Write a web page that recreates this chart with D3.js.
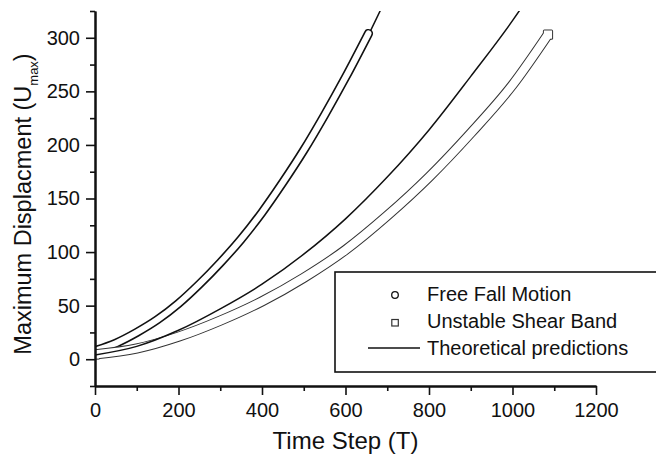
<!DOCTYPE html>
<html>
<head>
<meta charset="utf-8">
<script src="https://cdn.jsdelivr.net/npm/d3@7/dist/d3.min.js"></script>
<style>
  body { margin: 0; background: #fff; }
  text { font-family: "Liberation Sans", Arial, sans-serif; fill: #111; }
</style>
</head>
<body>
<div id="chart"></div>
<script>
// values (time step T, max displacement U)
var freeFallT = [0, 50, 100, 150, 200, 250, 300, 350, 400, 450, 500, 550, 600, 655];
var freeFallU = [8, 15, 25, 37, 52, 70, 90, 112, 137, 165, 195, 228, 263, 304];

var shearT = [0, 100, 200, 300, 400, 500, 600, 700, 800, 900, 1000, 1085];
var shearU = [4.5, 10, 21, 36, 54, 76, 102, 134, 170, 211, 256, 303];

var theoryFallT = [0, 100, 200, 300, 400, 500, 600, 700];
var theoryFallU = [11, 25, 51, 88, 135, 192, 260, 339];

var theoryShearT = [0, 100, 200, 300, 400, 500, 600, 700, 800, 900, 1000, 1030];
var theoryShearU = [4, 12, 27, 47, 70, 98, 131, 170, 214, 264, 316, 333];

var xTicks = [0, 200, 400, 600, 800, 1000, 1200];
var xMinor = [100, 300, 500, 700, 900, 1100];
var yTicks = [0, 50, 100, 150, 200, 250, 300];
var yMinor = [-25, 25, 75, 125, 175, 225, 275, 325];

var legendLabels = ["Free Fall Motion", "Unstable Shear Band", "Theoretical predictions"];

// set up svg
var svgWidth = 656;
var svgHeight = 458;
var margin = { top: 11, right: 60, bottom: 72, left: 95 };
var width = svgWidth - margin.left - margin.right;
var height = svgHeight - margin.top - margin.bottom;

var svg = d3.select("#chart")
  .append("svg")
  .attr("width", svgWidth)
  .attr("height", svgHeight);

var chartGroup = svg.append("g")
  .attr("transform", `translate(${margin.left}, ${margin.top})`);

var x = d3.scaleLinear().domain([0, 1200]).range([0, width]);
var y = d3.scaleLinear().domain([-25, 325]).range([height, 0]);

svg.append("defs").append("clipPath")
  .attr("id", "plotclip")
  .append("rect")
  .attr("x", 0).attr("y", 0)
  .attr("width", width).attr("height", height);

var plot = chartGroup.append("g").attr("clip-path", "url(#plotclip)");

var line = d3.line().curve(d3.curveMonotoneX);

function pts(tArr, uArr) {
  return tArr.map((t, i) => [x(t), y(uArr[i])]);
}

// theory line for free fall sits under the symbols
plot.append("path")
  .attr("d", line(pts(theoryFallT, theoryFallU)))
  .attr("fill", "none")
  .attr("stroke", "#111")
  .attr("stroke-width", 1.5);

// dense symbols -> draw as an outlined band
function drawBand(tArr, uArr, outerW, innerW, shape, edge) {
  var p = pts(tArr, uArr);
  var g = plot.append("g");
  var cap = shape === "circle" ? "round" : "butt";
  g.append("path")
    .attr("d", line(p))
    .attr("fill", "none")
    .attr("stroke", edge)
    .attr("stroke-width", outerW)
    .attr("stroke-linecap", cap);
  if (shape === "square") {
    [p[0], p[p.length - 1]].forEach(function(q) {
      g.append("rect")
        .attr("x", q[0] - outerW / 2).attr("y", q[1] - outerW / 2)
        .attr("width", outerW).attr("height", outerW)
        .attr("rx", 1.5)
        .attr("fill", edge);
    });
  }
  g.append("path")
    .attr("d", line(p))
    .attr("fill", "none")
    .attr("stroke", "#fff")
    .attr("stroke-width", innerW)
    .attr("stroke-linecap", cap);
  if (shape === "square") {
    [p[0], p[p.length - 1]].forEach(function(q) {
      g.append("rect")
        .attr("x", q[0] - innerW / 2).attr("y", q[1] - innerW / 2)
        .attr("width", innerW).attr("height", innerW)
        .attr("fill", "#fff");
    });
  }
}

drawBand(freeFallT, freeFallU, 9.2, 6, "circle", "#111");
drawBand(shearT, shearU, 10.2, 8.2, "square", "#333");

plot.append("path")
  .attr("d", line(pts(theoryShearT, theoryShearU)))
  .attr("fill", "none")
  .attr("stroke", "#111")
  .attr("stroke-width", 1.5);

// axes
var bottomAxis = d3.axisBottom(x).tickValues(xTicks).tickSize(9).tickSizeOuter(0).tickPadding(7.5).tickFormat(d3.format("d"));
var bottomMinor = d3.axisBottom(x).tickValues(xMinor).tickSize(5).tickSizeOuter(0).tickFormat("");
var leftAxis = d3.axisLeft(y).tickValues(yTicks).tickSize(9).tickSizeOuter(0).tickPadding(6).tickFormat(d3.format("d"));
var leftMinor = d3.axisLeft(y).tickValues(yMinor).tickSize(5).tickSizeOuter(0).tickFormat("");

var xAxis = chartGroup.append("g").attr("transform", `translate(0, ${height})`).call(bottomAxis);
chartGroup.append("g").attr("transform", `translate(0, ${height})`).call(bottomMinor);
var yAxis = chartGroup.append("g").call(leftAxis);
chartGroup.append("g").call(leftMinor);

chartGroup.selectAll(".domain").attr("stroke", "#111").attr("stroke-width", 2);
chartGroup.selectAll(".tick line").attr("stroke", "#111").attr("stroke-width", 1.6);
chartGroup.selectAll(".tick text")
  .style("font-family", '"Liberation Sans", Arial, sans-serif')
  .style("font-size", "20px")
  .attr("fill", "#111");

// axis titles
chartGroup.append("text")
  .attr("x", width / 2)
  .attr("y", height + 63)
  .attr("text-anchor", "middle")
  .style("font-size", "24px")
  .text("Time Step (T)");

var yTitle = svg.append("text")
  .attr("transform", "translate(30.5, 204) rotate(-90)")
  .attr("text-anchor", "middle")
  .style("font-size", "23.5px");
yTitle.append("tspan").text("Maximum Displacment (U");
yTitle.append("tspan").attr("dy", 7.5).style("font-size", "13px").text("max");
yTitle.append("tspan").attr("dy", -7.5).text(")");

// legend
var legend = svg.append("g");
legend.append("rect")
  .attr("x", 335).attr("y", 272)
  .attr("width", 340).attr("height", 100)
  .attr("fill", "#fff")
  .attr("stroke", "#111")
  .attr("stroke-width", 1.6);

legend.append("circle")
  .attr("cx", 395).attr("cy", 295)
  .attr("r", 3.3)
  .attr("fill", "#fff").attr("stroke", "#111").attr("stroke-width", 1.3);
legend.append("rect")
  .attr("x", 391.8).attr("y", 319.5)
  .attr("width", 6.5).attr("height", 6.5)
  .attr("fill", "#fff").attr("stroke", "#333").attr("stroke-width", 1.2);
legend.append("line")
  .attr("x1", 368).attr("x2", 420)
  .attr("y1", 348).attr("y2", 348)
  .attr("stroke", "#111").attr("stroke-width", 1.5);

legend.selectAll(".legtext")
  .data(legendLabels)
  .enter()
  .append("text")
  .attr("class", "legtext")
  .attr("x", 427)
  .attr("y", (d, i) => 301 + i * 27)
  .style("font-size", "20px")
  .text(d => d);
</script>
</body>
</html>
